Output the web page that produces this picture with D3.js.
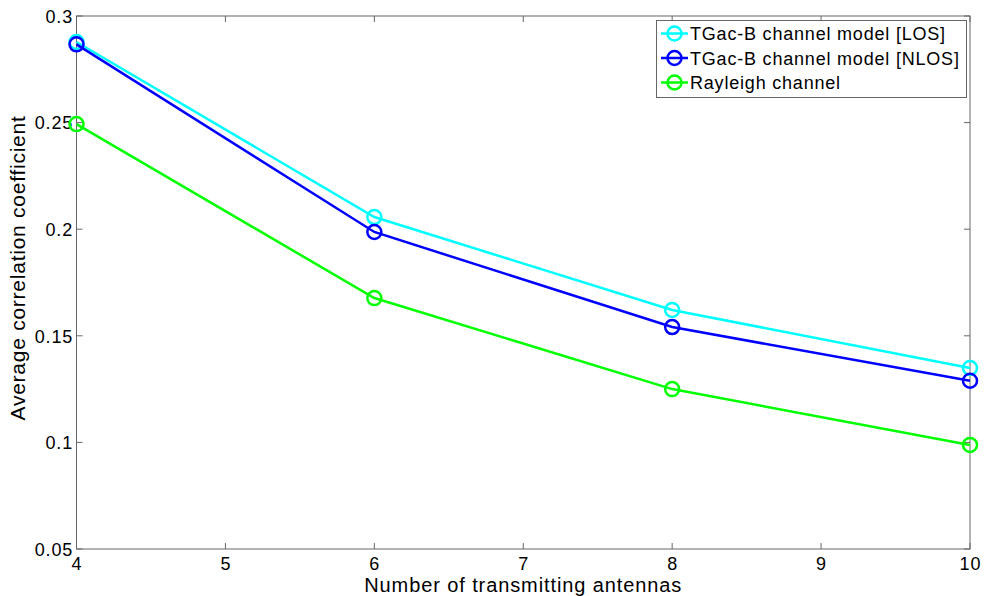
<!DOCTYPE html>
<html><head><meta charset="utf-8">
<script src="https://cdn.jsdelivr.net/npm/d3@7"></script>
<style>body{margin:0;background:#fff;} svg{display:block;} text{font-family:"Liberation Sans",Arial,sans-serif;}</style>
</head><body><svg width="984" height="596"></svg>
<script>
const antennas = [4, 6, 8, 10];
const losValues = [0.2878, 0.2057, 0.1621, 0.1349];
const nlosValues = [0.2867, 0.1987, 0.1541, 0.1289];
const rayleighValues = [0.2493, 0.1677, 0.1250, 0.0988];
const seriesNames = ["TGac-B channel model [LOS]", "TGac-B channel model [NLOS]", "Rayleigh channel"];
const seriesColors = ["#00ffff", "#0000ff", "#00ff00"];
const xTicks = [4, 5, 6, 7, 8, 9, 10];
const yTicks = [0.05, 0.1, 0.15, 0.2, 0.25, 0.3];

const series = [losValues, nlosValues, rayleighValues].map((v, i) => ({name: seriesNames[i], color: seriesColors[i], values: v}));
const svg = d3.select("svg");
const L = 76.5, R = 970, T = 16, B = 549;
const x = d3.scaleLinear().domain([4, 10]).range([L, R]);
const y = d3.scaleLinear().domain([0.05, 0.3]).range([B, T]);
const axisColor = "#666";

const g = svg.append("g");
xTicks.forEach(t => {
  g.append("line").attr("x1", x(t)).attr("x2", x(t)).attr("y1", B).attr("y2", B - 6).attr("stroke", axisColor);
  g.append("line").attr("x1", x(t)).attr("x2", x(t)).attr("y1", T).attr("y2", T + 6).attr("stroke", axisColor);
  g.append("text").attr("x", x(t) + 0.4).attr("y", 569.5).attr("text-anchor", "middle").attr("font-size", 18).attr("letter-spacing", 0.8).text(t);
});
yTicks.forEach(t => {
  g.append("line").attr("x1", L).attr("x2", L + 6).attr("y1", y(t)).attr("y2", y(t)).attr("stroke", axisColor);
  g.append("line").attr("x1", R).attr("x2", R - 6).attr("y1", y(t)).attr("y2", y(t)).attr("stroke", axisColor);
  g.append("text").attr("x", 73).attr("y", y(t) + 6.7).attr("text-anchor", "end").attr("font-size", 18).attr("letter-spacing", 0.8).text(d3.format("")(t));
});
svg.append("rect").attr("x", L).attr("y", T).attr("width", R - L).attr("height", B - T).attr("fill", "none").attr("stroke", axisColor);

const line = d3.line().x((d, i) => x(antennas[i])).y(d => y(d));
series.forEach(s => {
  svg.append("path").attr("d", line(s.values)).attr("fill", "none").attr("stroke", s.color).attr("stroke-width", 2.5);
  svg.selectAll(null).data(s.values).enter().append("circle")
    .attr("cx", (d, i) => x(antennas[i])).attr("cy", d => y(d)).attr("r", 7)
    .attr("fill", "none").attr("stroke", s.color).attr("stroke-width", 2.5);
});

svg.append("text").attr("x", (L + R) / 2).attr("y", 592).attr("text-anchor", "middle").attr("font-size", 20).attr("letter-spacing", 0.9).text("Number of transmitting antennas");
svg.append("text").attr("transform", `translate(25,${268}) rotate(-90)`).attr("text-anchor", "middle").attr("font-size", 21).attr("letter-spacing", 0.75).text("Average correlation coefficient");

const lg = svg.append("g");
lg.append("rect").attr("x", 656.5).attr("y", 20.5).attr("width", 310).attr("height", 77).attr("fill", "#fff").attr("stroke", axisColor);
series.forEach((s, i) => {
  const cy = 33.5 + i * 24.5;
  lg.append("line").attr("x1", 661).attr("x2", 688).attr("y1", cy).attr("y2", cy).attr("stroke", s.color).attr("stroke-width", 2.5);
  lg.append("circle").attr("cx", 674.5).attr("cy", cy).attr("r", 7).attr("fill", "none").attr("stroke", s.color).attr("stroke-width", 2.5);
  lg.append("text").attr("x", 690).attr("y", cy + 6.5).attr("font-size", 18).attr("letter-spacing", 0.8).text(s.name);
});
</script></body></html>
